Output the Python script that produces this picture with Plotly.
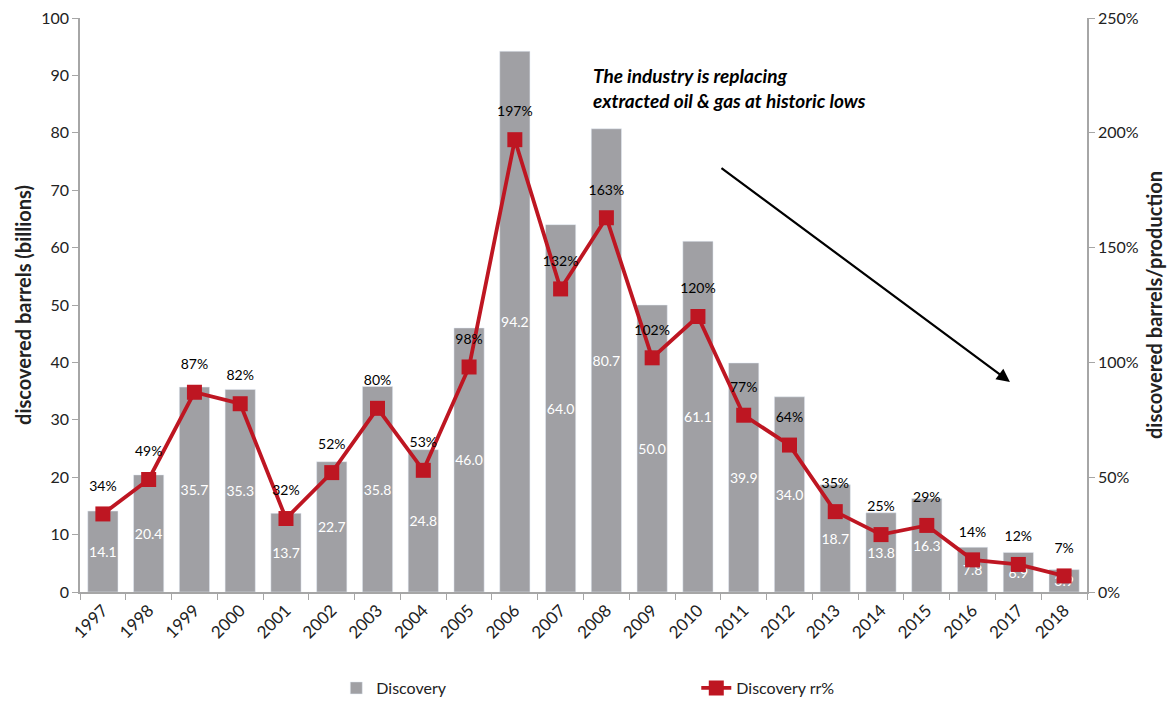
import plotly.graph_objects as go

years = [str(y) for y in range(1997, 2019)]
discovery = [14.1, 20.4, 35.7, 35.3, 13.7, 22.7, 35.8, 24.8, 46.0, 94.2, 64.0,
             80.7, 50.0, 61.1, 39.9, 34.0, 18.7, 13.8, 16.3, 7.8, 6.9, 3.9]
rr_pct = [34, 49, 87, 82, 32, 52, 80, 53, 98, 197, 132, 163, 102, 120, 77, 64,
          35, 25, 29, 14, 12, 7]

FONT = "Lato"
GRAY_AX = "#A6A6A6"
BAR = "#A0A0A4"
RED = "#BE1622"

fig = go.Figure()
fig.add_trace(go.Bar(
    x=years, y=discovery, name="Discovery", marker_color=BAR,
    width=0.66,
    text=[f"{v:.1f}" for v in discovery], textposition="inside",
    insidetextanchor="middle", textangle=0,
    textfont=dict(color="white", size=14, family=FONT),
    constraintext="none",
))
fig.add_trace(go.Scatter(
    x=years, y=rr_pct, name="Discovery rr%", yaxis="y2",
    mode="lines+markers",
    line=dict(color=RED, width=3.8),
    marker=dict(symbol="square", size=15, color=RED),
))
# percentage labels, offset above the markers via an invisible larger marker
fig.add_trace(go.Scatter(
    x=years, y=rr_pct, yaxis="y2", mode="markers+text", showlegend=False,
    marker=dict(size=30, opacity=0, color=RED),
    text=[f"{v}%" for v in rr_pct], textposition="top center",
    textfont=dict(color="black", size=14, family=FONT),
    cliponaxis=False, hoverinfo="skip",
))

fig.update_layout(
    width=1170, height=701,
    margin=dict(l=80, r=83, t=18, b=109),
    paper_bgcolor="white", plot_bgcolor="white",
    font=dict(family=FONT, color="#222222", size=16),
    bargap=0.34,
    uniformtext=dict(mode="show", minsize=8),
    xaxis=dict(
        type="category", showline=True, linecolor=GRAY_AX, linewidth=1.5,
        ticks="outside", tickson="boundaries", ticklen=6, tickcolor=GRAY_AX,
        tickangle=-45, tickfont=dict(size=17, family=FONT, color="#222222"),
        showgrid=False, range=[-0.5, 21.5], automargin=False,
    ),
    yaxis=dict(
        range=[0, 100], dtick=10, showline=True, linecolor=GRAY_AX, linewidth=1.5,
        ticks="outside", ticklen=6, tickcolor=GRAY_AX, showgrid=False,
        zeroline=False, automargin=False,
        tickfont=dict(size=16, family=FONT, color="#222222"),
        title=dict(text="<b>discovered barrels (billions)</b>",
                   font=dict(size=20, family=FONT, color="#222222"), standoff=4),
    ),
    yaxis2=dict(
        range=[0, 250], dtick=50, ticksuffix="%", overlaying="y", side="right",
        showline=True, linecolor=GRAY_AX, linewidth=1.5,
        ticks="outside", ticklen=6, tickcolor=GRAY_AX, showgrid=False,
        zeroline=False, automargin=False,
        tickfont=dict(size=16, family=FONT, color="#222222"),
        title=dict(text="<b>discovered barrels/production</b>",
                   font=dict(size=20, family=FONT, color="#222222"), standoff=10),
    ),
    legend=dict(
        orientation="h", x=0.612, xanchor="center",
        yref="container", y=0.0185, yanchor="middle",
        font=dict(size=16, family=FONT, color="#222222"),
        entrywidth=315, entrywidthmode="pixels",
    ),
    showlegend=True,
    annotations=[
        dict(
            text="<b><i>The industry is replacing<br>extracted oil &amp; gas at historic lows</i></b>",
            xref="paper", yref="paper", x=0.507, y=0.923,
            xanchor="left", yanchor="top", align="left", showarrow=False,
            font=dict(size=19, family=FONT, color="black"),
        ),
        dict(
            xref="paper", yref="paper", x=0.9235, y=0.366,
            ax=-290, ay=-215,
            showarrow=True, arrowhead=2, arrowsize=1.2, arrowwidth=2.2,
            arrowcolor="black", text="",
        ),
    ],
)

fig.write_html("out.html", config={"displayModeBar": False},
               post_script="document.body.style.margin='0';document.body.style.overflow='hidden';")
